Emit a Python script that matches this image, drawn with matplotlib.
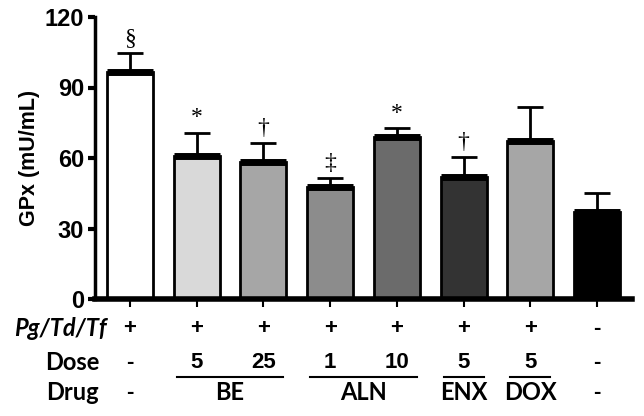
import matplotlib
matplotlib.use("Agg")
import matplotlib.pyplot as plt
from matplotlib.transforms import blended_transform_factory

# Dane
gpx_mean = [96.4, 61.0, 58.3, 47.7, 68.9, 52.0, 67.2, 37.0]
gpx_err = [8.1, 9.8, 8.0, 3.7, 3.7, 8.4, 14.4, 8.2]
bar_colors = ["#ffffff", "#d9d9d9", "#a6a6a6", "#8c8c8c", "#6b6b6b", "#333333", "#a6a6a6", "#000000"]
marks = ["§", "*", "†", "‡", "*", "†", "", ""]
infection = ["+", "+", "+", "+", "+", "+", "+", "-"]
doses = ["-", "5", "25", "1", "10", "5", "5", "-"]
drug_groups = [("-", 0, 0), ("BE", 1, 2), ("ALN", 3, 4), ("ENX", 5, 5), ("DOX", 6, 6), ("-", 7, 7)]
y_ticks = [0, 30, 60, 90, 120]

fig = plt.figure(figsize=(6.44, 4.16), dpi=100)
ax = fig.add_axes([95 / 644, 1 - 299 / 416, (632 - 95) / 644, (299 - 17) / 416])

x = list(range(len(gpx_mean)))
ax.bar(x, gpx_mean, width=0.69, color=bar_colors, edgecolor="black", linewidth=2, zorder=2)
# gruba linia średniej na górze słupka
ax.hlines(gpx_mean, [i - 0.345 for i in x], [i + 0.345 for i in x], colors="black", linewidth=5, zorder=3)
ax.errorbar(x, gpx_mean, yerr=[[0] * len(x), gpx_err], fmt="none", ecolor="black",
            elinewidth=2, capsize=9.4, capthick=2, zorder=1)

for i, m in enumerate(marks):
    if m:
        ax.annotate(m, (i, gpx_mean[i] + gpx_err[i]), xytext=(0, 3), textcoords="offset points",
                    ha="center", va="bottom", fontsize=17, family="Liberation Serif")

ax.set_xlim(-0.525, len(x) - 0.475)
ax.set_ylim(0, 120)
ax.set_yticks(y_ticks)
ax.set_xticks(x)
ax.set_xticklabels([])
for lab in ax.get_yticklabels():
    lab.set_fontweight("bold")
    lab.set_family("Liberation Sans")
    lab.set_fontsize(17)
ax.tick_params(axis="y", length=5, width=3, pad=3)
ax.tick_params(axis="x", length=6, width=1.5)
ax.spines["top"].set_visible(False)
ax.spines["right"].set_visible(False)
ax.spines["left"].set_linewidth(2.5)
ax.spines["bottom"].set_linewidth(4)
ax.set_ylabel("GPx (mU/mL)", fontsize=15.5, fontweight="bold", family="Liberation Sans", labelpad=3)

# Tabela pod osią
tr = blended_transform_factory(ax.transData, fig.transFigure)
row_y = [1 - 329 / 416, 1 - 362 / 416, 1 - 393 / 416]
line_y = 1 - 377 / 416

fig.text(107 / 644, row_y[0], "Pg/Td/Tf", ha="right", va="center", fontsize=17,
         fontweight="bold", style="italic", family="Lato")
fig.text(99 / 644, row_y[1], "Dose", ha="right", va="center", fontsize=17, fontweight="bold", family="Lato")
fig.text(99 / 644, row_y[2], "Drug", ha="right", va="center", fontsize=17, fontweight="bold", family="Lato")

for i in x:
    ax.text(i, row_y[0], infection[i], transform=tr, ha="center", va="center",
            fontsize=16, fontweight="bold", family="Liberation Sans")
    ax.text(i, row_y[1], doses[i], transform=tr, ha="center", va="center",
            fontsize=16, fontweight="bold", family="Liberation Sans")

for name, a, b in drug_groups:
    xc = (a + b) / 2
    if name == "-":
        ax.text(xc, row_y[2], name, transform=tr, ha="center", va="center",
                fontsize=16, fontweight="bold", family="Liberation Sans")
        continue
    ax.text(xc, row_y[2], name, transform=tr, ha="center", va="center",
            fontsize=17, fontweight="bold", family="Lato")
    ax.plot([a - 0.3, b + 0.3], [line_y, line_y], color="black", linewidth=1.5,
            transform=tr, clip_on=False)

fig.savefig("out.png", dpi=100, facecolor="white")
